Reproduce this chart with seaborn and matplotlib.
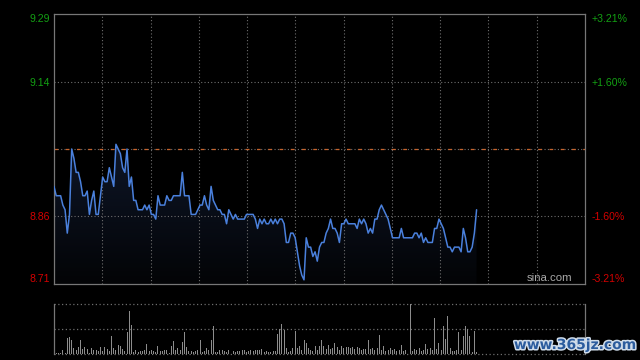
import numpy as np
import pandas as pd
import matplotlib
matplotlib.use("Agg")
import matplotlib.pyplot as plt
import seaborn as sns
from matplotlib import patheffects as pe
from matplotlib.colors import LinearSegmentedColormap

# ---------------- data ----------------
prev_close = 9.00
price = [
    8.92, 8.90, 8.90, 8.90, 8.88, 8.87, 8.82, 8.86, 9.00, 8.98,
    8.95, 8.95, 8.93, 8.90, 8.90, 8.91, 8.86, 8.89, 8.91, 8.86,
    8.86, 8.90, 8.94, 8.93, 8.93, 8.96, 8.94, 8.92, 9.01, 9.00,
    8.99, 8.96, 8.95, 9.00, 8.92, 8.94, 8.89, 8.89, 8.87, 8.87,
    8.87, 8.88, 8.87, 8.88, 8.86, 8.86, 8.85, 8.90, 8.88, 8.88,
    8.88, 8.90, 8.89, 8.89, 8.90, 8.90, 8.90, 8.90, 8.95, 8.90,
    8.90, 8.90, 8.86, 8.86, 8.86, 8.87, 8.88, 8.88, 8.90, 8.88,
    8.87, 8.92, 8.89, 8.88, 8.87, 8.87, 8.86, 8.86, 8.84, 8.87,
    8.86, 8.85, 8.86, 8.85, 8.85, 8.85, 8.85, 8.86, 8.86, 8.86,
    8.86, 8.85, 8.83, 8.85, 8.84, 8.85, 8.84, 8.84, 8.85, 8.84,
    8.85, 8.84, 8.85, 8.85, 8.84, 8.80, 8.80, 8.82, 8.82, 8.81,
    8.78, 8.75, 8.73, 8.72, 8.81, 8.79, 8.79, 8.77, 8.78, 8.76,
    8.79, 8.80, 8.80, 8.82, 8.83, 8.85, 8.83, 8.83, 8.82, 8.80,
    8.84, 8.84, 8.85, 8.84, 8.84, 8.84, 8.84, 8.83, 8.85, 8.84,
    8.85, 8.84, 8.82, 8.83, 8.82, 8.85, 8.85, 8.87, 8.88, 8.87,
    8.86, 8.85, 8.83, 8.81, 8.81, 8.81, 8.81, 8.83, 8.81, 8.81,
    8.81, 8.81, 8.81, 8.82, 8.82, 8.81, 8.82, 8.80, 8.81, 8.80,
    8.80, 8.80, 8.83, 8.83, 8.85, 8.84, 8.83, 8.81, 8.79, 8.79,
    8.78, 8.79, 8.79, 8.79, 8.78, 8.83, 8.81, 8.78, 8.78, 8.79,
    8.82, 8.87,
]
volume = [
    1, 1, 1, 1, 4, 1, 16, 17, 14, 6,
    4, 7, 14, 5, 7, 5, 1, 6, 4, 4,
    3, 7, 3, 7, 5, 3, 18, 6, 4, 9,
    8, 5, 3, 22, 43, 29, 2, 4, 2, 3,
    3, 4, 10, 3, 4, 3, 2, 8, 3, 3,
    4, 4, 1, 8, 13, 4, 6, 4, 12, 22,
    7, 3, 3, 2, 3, 4, 14, 2, 3, 6,
    4, 14, 28, 2, 2, 4, 4, 3, 2, 4,
    12, 3, 2, 3, 3, 4, 4, 2, 3, 4,
    3, 4, 4, 4, 5, 2, 3, 2, 2, 3,
    3, 20, 25, 30, 24, 6, 2, 3, 6, 23,
    6, 8, 4, 14, 11, 6, 4, 3, 8, 4,
    8, 14, 8, 5, 9, 5, 6, 11, 7, 4,
    8, 6, 7, 7, 6, 7, 5, 7, 6, 4,
    5, 5, 14, 5, 6, 4, 6, 19, 4, 8,
    3, 4, 6, 4, 5, 3, 4, 9, 3, 4,
    4, 50, 3, 5, 4, 6, 3, 4, 10, 5,
    6, 4, 36, 5, 11, 4, 28, 15, 38, 6,
    3, 3, 4, 22, 4, 18, 28, 25, 18, 2,
    23, 2,
]
price_labels = ["9.29", "9.14", "8.86", "8.71"]
pct_values = [3.21, 1.60, -1.60, -3.21]
pct_labels = ["+3.21%", "+1.60%", "-1.60%", "-3.21%"]
label_colors = ["#13a013", "#13a013", "#d40000", "#d40000"]
total_minutes = 240
n_vgrid = 11

df = pd.DataFrame({"minute": np.arange(len(price)), "price": price, "volume": volume})
tick_pos = [prev_close * (1 + p / 100) for p in pct_values]
ymax, ymin = tick_pos[0], tick_pos[-1]

# ---------------- style ----------------
sns.set_theme(style="dark", rc={
    "figure.facecolor": "black", "axes.facecolor": "black",
    "savefig.facecolor": "black", "axes.edgecolor": "#777777",
})
plt.rcParams["font.family"] = ["Liberation Sans", "DejaVu Sans"]

W, H = 640, 360
fig = plt.figure(figsize=(6.4, 3.6), dpi=100)
ax = fig.add_axes([54 / W, 1 - 284 / H, 531 / W, 270 / H])
ax.set_facecolor("black")

grid_col = "#6e6e6e"
dot = (0, (1, 2))

# gradient area under the line
poly = ax.fill_between(df["minute"], df["price"], ymin, color="none", lw=0)
grad = np.linspace(0, 1, 256).reshape(-1, 1)
cmap = LinearSegmentedColormap.from_list("g", ["#030406", "#0e1628"])
im = ax.imshow(grad, extent=[0, total_minutes, ymin, max(price)], origin="lower",
               aspect="auto", cmap=cmap, zorder=1)
im.set_clip_path(poly.get_paths()[0], transform=ax.transData)

sns.lineplot(data=df, x="minute", y="price", ax=ax, color="#4a80dc", lw=1.1, zorder=4)

ax.set_xlim(0, total_minutes)
ax.set_ylim(ymin, ymax)

# grid
vgrid = [total_minutes * k / n_vgrid for k in range(1, n_vgrid)]
for xv in vgrid:
    ax.axvline(xv, color=grid_col, ls=dot, lw=0.8, zorder=2)
for yv in (tick_pos[1], tick_pos[2]):
    ax.axhline(yv, color=grid_col, ls=dot, lw=0.8, zorder=2)
ax.axhline(prev_close, color=grid_col, ls=dot, lw=0.8, zorder=2)
ax.axhline(prev_close, color="#c8642c", ls=(0, (3, 6)), lw=0.9, zorder=2)

for s in ax.spines.values():
    s.set_color("#777777")
    s.set_linewidth(0.9)
ax.set_xticks([])
ax.set_xlabel("")
ax.set_ylabel("")
ax.set_yticks(tick_pos)
ax.set_yticklabels(price_labels)
ax.tick_params(axis="y", length=0, pad=3, labelsize=7.6)
for i, t in enumerate(ax.get_yticklabels()):
    t.set_color(label_colors[i])
    if i == 0:
        t.set_va("top")
    elif i == len(price_labels) - 1:
        t.set_va("bottom")

ax2 = ax.twinx()
ax2.set_ylim(ymin, ymax)
ax2.set_yticks(tick_pos)
ax2.set_yticklabels(pct_labels)
ax2.tick_params(axis="y", length=0, pad=5, labelsize=7.6)
for s in ax2.spines.values():
    s.set_visible(False)
for i, t in enumerate(ax2.get_yticklabels()):
    t.set_color(label_colors[i])
    if i == 0:
        t.set_va("top")
    elif i == len(pct_labels) - 1:
        t.set_va("bottom")
ax2.grid(False)

ax.text(0.977, 0.022, "sina.com", transform=ax.transAxes, ha="right", va="center",
        color="#a8a8a8", fontsize=8.2, zorder=5)

# ---------------- volume panel ----------------
vax = fig.add_axes([54 / W, 1 - 354.3 / H, 531 / W, 50 / H])
vax.set_facecolor("black")
sns.barplot(data=df, x="minute", y="volume", native_scale=True, color="#8c8c8c",
            saturation=1, width=0.45, ax=vax, linewidth=0, zorder=3)
vax.set_xlim(0, total_minutes)
vax.set_ylim(0, max(volume))
for yv in (0, max(volume) / 2, max(volume)):
    vax.axhline(yv, color=grid_col, ls=dot, lw=0.9, zorder=2, clip_on=False)
vax.spines["top"].set_visible(False)
vax.spines["bottom"].set_visible(False)
for k in ("left", "right"):
    vax.spines[k].set_color("#777777")
    vax.spines[k].set_linewidth(0.9)
vax.set_xticks([])
vax.set_yticks([])
vax.set_xlabel("")
vax.set_ylabel("")
vax.grid(False)

# watermark
fig.text(575 / W, 1 - 345 / H, "www.365jz.com", ha="center", va="center",
         fontsize=10, fontweight="bold", color="#2b5c9e", family=["DejaVu Sans"],
         path_effects=[pe.withStroke(linewidth=2.2, foreground="#cfdcea")], zorder=10)

fig.savefig("out.png", dpi=100, facecolor="black")
